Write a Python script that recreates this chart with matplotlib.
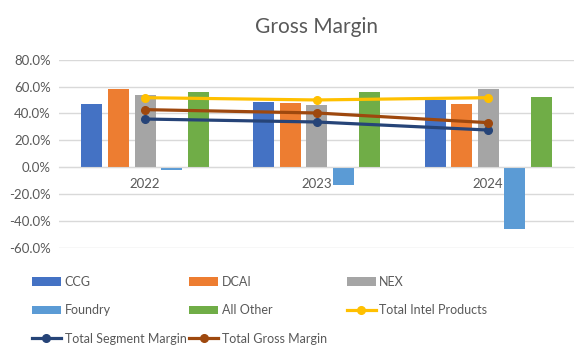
import numpy as np
import matplotlib.pyplot as plt

plt.rcParams['font.family'] = ['Lato', 'DejaVu Sans']

years = ['2022', '2023', '2024']

# bar series (gross margin, %)
ccg = [47.0, 48.5, 49.8]
dcai = [58.2, 48.0, 47.0]
nex = [53.7, 46.3, 58.2]
foundry = [-2.0, -13.4, -46.0]
all_other = [56.0, 56.0, 52.2]

# line series
total_intel = [51.7, 50.0, 51.7]
total_segment = [35.8, 33.6, 27.6]
total_gross = [42.8, 40.3, 33.1]

bar_names = ['CCG', 'DCAI', 'NEX', 'Foundry', 'All Other']
bar_vals = [ccg, dcai, nex, foundry, all_other]
bar_cols = ['#4472C4', '#ED7D31', '#A5A5A5', '#5B9BD5', '#70AD47']

txt = '#595959'

fig = plt.figure(figsize=(5.82, 3.51), dpi=100)
ax = fig.add_axes([0.1018, 0.2943, 0.8845, 0.5357])

x = np.arange(len(years))
step = 0.155
w = 0.122
h = {}
for i, (name, vals, c) in enumerate(zip(bar_names, bar_vals, bar_cols)):
    h[name] = ax.bar(x + (i - 2) * step, vals, w, color=c, label=name, zorder=2)

h['Total Intel Products'], = ax.plot(x, total_intel, color='#FFC000', lw=2.3, marker='o', ms=5.5,
                                     label='Total Intel Products', zorder=3)
h['Total Segment Margin'], = ax.plot(x, total_segment, color='#264478', lw=2.3, marker='o', ms=5.5,
                                     label='Total Segment Margin', zorder=3)
h['Total Gross Margin'], = ax.plot(x, total_gross, color='#9E480E', lw=2.3, marker='o', ms=5.5,
                                   label='Total Gross Margin', zorder=3)

ax.set_xlim(-0.5, 2.5)
ax.set_ylim(-60, 80)
yt = np.arange(-60, 81, 20)
ax.set_yticks(yt)
ax.set_yticklabels(['%.1f%%' % v for v in yt])
ax.grid(axis='y', color='#D9D9D9', lw=1, zorder=0)
ax.set_axisbelow(True)
for s in ['top', 'right', 'left']:
    ax.spines[s].set_visible(False)
ax.spines['bottom'].set_position(('data', 0))
ax.spines['bottom'].set_color('#D9D9D9')
ax.set_xticks(x)
ax.set_xticklabels(years)
ax.tick_params(axis='both', length=0, colors=txt, labelsize=9.5)
ax.tick_params(axis='x', pad=8)
ax.tick_params(axis='y', pad=6)

ax.set_title('Gross Margin', color=txt, fontsize=15, pad=19)

# legend: three equal-width columns, filled row by row
cols = [['CCG', 'Foundry', 'Total Segment Margin'],
        ['DCAI', 'All Other', 'Total Gross Margin'],
        ['NEX', 'Total Intel Products']]
col_x = [0.055, 0.325, 0.596]
for names, cx in zip(cols, col_x):
    fig.legend([h[k] for k in names], names, loc='upper left', bbox_to_anchor=(cx, 0.213),
               frameon=False, fontsize=9, labelcolor=txt, handlelength=2.3, handletextpad=0.3,
               labelspacing=1.3, borderaxespad=0, borderpad=0)

fig.savefig('out.png', dpi=100)
